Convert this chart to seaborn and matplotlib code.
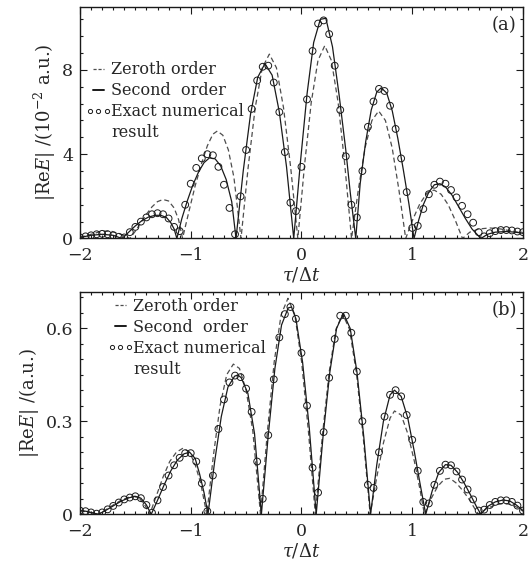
import numpy as np
import seaborn as sns
import matplotlib.pyplot as plt
from matplotlib.lines import Line2D
from matplotlib.legend_handler import HandlerLine2D
from matplotlib.ticker import MultipleLocator

# (a) 零阶近似 (虚线)
top_zero_x = [-2.0, -1.9, -1.8, -1.72, -1.63, -1.55,
              -1.5, -1.45, -1.4, -1.35, -1.3, -1.25, -1.2, -1.15, -1.11, -1.074,
              -1.02, -0.96, -0.9, -0.85, -0.8, -0.76, -0.71, -0.66, -0.61, -0.546,
              -0.482, -0.418, -0.354, -0.29, -0.226, -0.162, -0.097, -0.033,
              0.028, 0.088, 0.149, 0.21, 0.27, 0.331, 0.391, 0.452,
              0.513, 0.574, 0.636, 0.697, 0.758, 0.819, 0.88, 0.941,
              1.005, 1.069, 1.133, 1.197, 1.261, 1.325, 1.39, 1.454,
              1.52, 1.6, 1.7, 1.8, 1.9, 2.0]
top_zero_y = [0.05, 0.2, 0.35, 0.35, 0.2, 0.0,
              0.35, 0.75, 1.15, 1.5, 1.75, 1.85, 1.78, 1.45, 0.9, 0.0,
              1.2, 2.5, 3.6, 4.4, 4.95, 5.1, 4.9, 4.2, 2.9, 0.0,
              3.35, 6.2, 8.1, 8.75, 8.1, 6.2, 3.35, 0.0,
              3.5, 6.45, 8.45, 9.15, 8.45, 6.45, 3.5, 0.0,
              2.3, 4.3, 5.6, 6.05, 5.6, 4.3, 2.3, 0.0,
              0.9, 1.65, 2.15, 2.3, 2.1, 1.6, 0.85, 0.0,
              0.3, 0.45, 0.5, 0.45, 0.35, 0.25]

# (a) 二阶近似 (实线)
top_second_x = [-2.0, -1.9, -1.8, -1.7, -1.62,
                -1.56, -1.5, -1.44, -1.38, -1.32, -1.27, -1.22, -1.18, -1.15, -1.125,
                -1.08, -1.03, -0.98, -0.93, -0.88, -0.83, -0.78, -0.73, -0.68, -0.63, -0.591,
                -0.526, -0.46, -0.395, -0.33, -0.265, -0.2, -0.135, -0.07,
                -0.01, 0.05, 0.11, 0.17, 0.22, 0.28, 0.34, 0.4, 0.44, 0.49,
                0.53, 0.58, 0.63, 0.68, 0.72, 0.77, 0.82, 0.87, 0.92, 0.97, 1.016,
                1.06, 1.1, 1.15, 1.2, 1.25, 1.3, 1.36, 1.42, 1.48, 1.54, 1.62,
                1.68, 1.75, 1.85, 1.93, 2.0]
top_second_y = [0.05, 0.15, 0.2, 0.15, 0.0,
                0.3, 0.6, 0.85, 1.02, 1.1, 1.1, 1.0, 0.75, 0.45, 0.0,
                0.95, 1.8, 2.55, 3.15, 3.6, 3.83, 3.78, 3.45, 2.8, 1.75, 0.0,
                3.2, 5.9, 7.65, 8.3, 7.75, 6.0, 3.4, 0.0,
                3.6, 6.85, 9.3, 10.4, 10.45, 9.1, 6.8, 4.2, 2.2, 0.0,
                2.6, 4.6, 6.1, 6.95, 7.15, 6.9, 6.05, 4.75, 3.25, 1.65, 0.0,
                0.9, 1.6, 2.2, 2.55, 2.6, 2.45, 2.05, 1.5, 0.95, 0.45, 0.0,
                0.2, 0.3, 0.33, 0.3, 0.25]

# (a) 精确数值解 (圆圈)
top_exact_y = [0.05, 0.1, 0.15, 0.2, 0.22, 0.2, 0.15, 0.08, 0.05, 0.3,
               0.55, 0.8, 1.0, 1.15, 1.2, 1.15, 0.95, 0.55, 0.35, 1.6,
               2.6, 3.35, 3.8, 4.0, 3.95, 3.4, 2.55, 1.45, 0.2, 2.0,
               4.2, 6.15, 7.5, 8.15, 8.2, 7.4, 6.0, 4.1, 1.7, 1.3,
               3.4, 6.6, 8.9, 10.2, 10.35, 9.7, 8.2, 6.1, 3.9, 1.6,
               1.0, 3.2, 5.3, 6.5, 7.1, 7.0, 6.3, 5.2, 3.8, 2.2,
               0.5, 0.6, 1.4, 2.1, 2.55, 2.7, 2.6, 2.3, 1.95, 1.55,
               1.15, 0.75, 0.3, 0.1, 0.25, 0.35, 0.4, 0.4, 0.38, 0.33,
               0.3]

# (b) 零阶近似
bot_zero_x = [-2.0, -1.9, -1.84,
              -1.77, -1.7, -1.63, -1.56, -1.51, -1.46, -1.41, -1.37,
              -1.31, -1.25, -1.19, -1.13, -1.07, -1.01, -0.96, -0.91, -0.855,
              -0.795, -0.735, -0.675, -0.615, -0.56, -0.5, -0.44, -0.37,
              -0.308, -0.246, -0.184, -0.122, -0.06, 0.001, 0.063, 0.125,
              0.187, 0.249, 0.311, 0.372, 0.434, 0.496, 0.558, 0.62,
              0.68, 0.74, 0.8, 0.84, 0.9, 0.96, 1.02, 1.07, 1.11,
              1.17, 1.23, 1.29, 1.34, 1.4, 1.46, 1.52, 1.57, 1.6,
              1.67, 1.75, 1.82, 1.89, 1.95, 2.0]
bot_zero_y = [0.012, 0.005, 0.0,
              0.014, 0.03, 0.045, 0.055, 0.058, 0.05, 0.027, 0.0,
              0.06, 0.12, 0.17, 0.2, 0.213, 0.2, 0.16, 0.1, 0.0,
              0.19, 0.35, 0.45, 0.484, 0.47, 0.4, 0.27, 0.0,
              0.266, 0.492, 0.643, 0.696, 0.643, 0.492, 0.266, 0.0,
              0.247, 0.456, 0.596, 0.645, 0.596, 0.456, 0.247, 0.0,
              0.12, 0.23, 0.31, 0.333, 0.32, 0.26, 0.17, 0.08, 0.0,
              0.05, 0.09, 0.113, 0.116, 0.1, 0.075, 0.045, 0.015, 0.0,
              0.018, 0.03, 0.035, 0.032, 0.022, 0.01]

# (b) 二阶近似
bot_second_x = [-2.0, -1.95, -1.9, -1.834,
                -1.77, -1.7, -1.63, -1.56, -1.5, -1.45, -1.4, -1.357,
                -1.3, -1.24, -1.18, -1.12, -1.06, -1.01, -0.96, -0.92, -0.88, -0.844,
                -0.784, -0.724, -0.664, -0.604, -0.574, -0.544, -0.484, -0.424, -0.362,
                -0.3, -0.24, -0.18, -0.12, -0.09, -0.05, 0.01, 0.07, 0.133,
                0.194, 0.256, 0.317, 0.378, 0.44, 0.501, 0.563, 0.624,
                0.68, 0.74, 0.8, 0.84, 0.9, 0.96, 1.02, 1.07, 1.122,
                1.18, 1.24, 1.3, 1.35, 1.41, 1.47, 1.53, 1.58, 1.62,
                1.68, 1.75, 1.82, 1.88, 1.94, 2.0]
bot_second_y = [0.012, 0.01, 0.006, 0.0,
                0.012, 0.027, 0.042, 0.053, 0.058, 0.052, 0.03, 0.0,
                0.045, 0.095, 0.14, 0.175, 0.195, 0.2, 0.18, 0.13, 0.07, 0.0,
                0.17, 0.315, 0.41, 0.445, 0.449, 0.44, 0.39, 0.26, 0.0,
                0.255, 0.47, 0.61, 0.665, 0.668, 0.63, 0.49, 0.28, 0.0,
                0.248, 0.458, 0.599, 0.648, 0.599, 0.458, 0.248, 0.0,
                0.16, 0.3, 0.385, 0.4, 0.38, 0.31, 0.2, 0.1, 0.0,
                0.075, 0.135, 0.16, 0.158, 0.135, 0.1, 0.06, 0.025, 0.0,
                0.025, 0.04, 0.046, 0.043, 0.03, 0.012]

# (b) 精确数值解
bot_exact_y = [0.012, 0.01, 0.006, 0.002, 0.006, 0.016, 0.027, 0.038, 0.048, 0.054,
               0.058, 0.052, 0.03, 0.005, 0.045, 0.088, 0.125, 0.158, 0.182, 0.197,
               0.197, 0.17, 0.1, 0.01, 0.125, 0.275, 0.37, 0.425, 0.447, 0.442,
               0.405, 0.33, 0.17, 0.05, 0.255, 0.435, 0.57, 0.645, 0.668, 0.63,
               0.52, 0.35, 0.15, 0.07, 0.265, 0.44, 0.565, 0.64, 0.64, 0.585,
               0.46, 0.3, 0.095, 0.085, 0.2, 0.315, 0.385, 0.4, 0.38, 0.32,
               0.24, 0.14, 0.04, 0.035, 0.095, 0.14, 0.16, 0.158, 0.138, 0.112,
               0.08, 0.048, 0.012, 0.015, 0.03, 0.04, 0.045, 0.045, 0.04, 0.028,
               0.012]

exact_x = np.linspace(-2, 2, 81)

xticks = [-2, -1, 0, 1, 2]
top_yticks = [0, 4, 8]
bot_yticks = [0, 0.3, 0.6]

sns.set_theme(style='ticks')
plt.rcParams['font.family'] = ['DejaVu Serif']
plt.rcParams['mathtext.fontset'] = 'dejavuserif'

fig = plt.figure(figsize=(5.29, 5.63), dpi=100)
ax1 = fig.add_axes([0.1512, 0.5764, 0.8374, 0.4117])
ax2 = fig.add_axes([0.1512, 0.0865, 0.8374, 0.3952])

dash = (0, (4, 2.5))


def draw_panel(ax, zx, zy, sx, sy, ey, yticks, ymax, yminor, ylabel, tag, leg_anchor):
    sns.lineplot(x=zx, y=zy, ax=ax, color='0.3', lw=0.9, linestyle=dash,
                 sort=False, estimator=None)
    sns.lineplot(x=sx, y=sy, ax=ax, color='k', lw=0.9, sort=False, estimator=None)
    sns.scatterplot(x=exact_x, y=ey, ax=ax, marker='o', s=24,
                    facecolor='none', edgecolor='k', linewidth=0.7, zorder=3)
    ax.set_xlim(-2, 2)
    ax.set_ylim(0, ymax)
    ax.set_xticks(xticks)
    ax.set_xticklabels(['\u22122', '\u22121', '0', '1', '2'])
    ax.set_yticks(yticks)
    ax.set_yticklabels([('%g' % v) for v in yticks])
    ax.xaxis.set_minor_locator(MultipleLocator(0.1))
    ax.yaxis.set_minor_locator(MultipleLocator(yminor))
    ax.tick_params(which='both', direction='in', top=True, right=True,
                   labelsize=12.5, color='k', width=0.8)
    ax.tick_params(which='major', length=5)
    ax.tick_params(axis='x', which='major', pad=6)
    ax.tick_params(axis='y', which='major', pad=5)
    ax.tick_params(which='minor', length=2.5)
    for sp in ax.spines.values():
        sp.set_linewidth(1.0)
        sp.set_color('k')
    ax.set_xlabel(r'$\tau/\Delta t$', fontsize=13, labelpad=1)
    ax.set_ylabel(ylabel, fontsize=13, labelpad=3)
    ax.text(0.957, 0.92, tag, transform=ax.transAxes, ha='center', va='center',
            fontsize=13)
    h_circ = Line2D([], [], ls='none', marker='o', mfc='none', mec='k', ms=3.0, mew=0.7)
    handles = [
        Line2D([], [], color='0.3', lw=0.9, linestyle=(0, (2.5, 1.5))),
        Line2D([], [], color='k', lw=1.4),
        h_circ,
        Line2D([], [], ls='none'),
    ]
    labels = ['Zeroth order', 'Second  order', 'Exact numerical', 'result']
    ax.legend(handles, labels, loc='upper left', bbox_to_anchor=leg_anchor,
              frameon=False, fontsize=11.5, handlelength=1.3, handletextpad=0.15,
              labelspacing=0.25, numpoints=3, borderaxespad=0, borderpad=0,
              handler_map={h_circ: HandlerLine2D(marker_pad=0.1, numpoints=3)})


draw_panel(ax1, top_zero_x, top_zero_y, top_second_x, top_second_y, top_exact_y,
           top_yticks, 11.0, 0.8, r'$|\mathrm{Re}E|$ /(10$^{-2}$ a.u.)', '(a)',
           (0.018, 0.765))
draw_panel(ax2, bot_zero_x, bot_zero_y, bot_second_x, bot_second_y, bot_exact_y,
           bot_yticks, 0.717, 0.05, r'$|\mathrm{Re}E|$ /(a.u.)', '(b)',
           (0.068, 0.972))

fig.savefig('out.png', dpi=100)
